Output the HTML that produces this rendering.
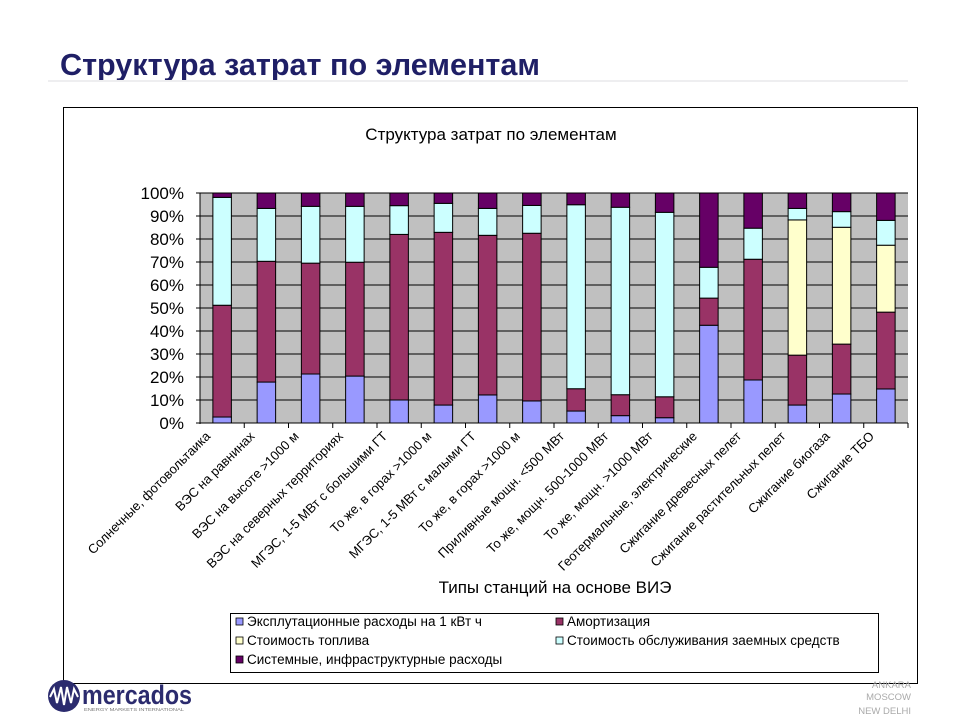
<!DOCTYPE html>
<html><head><meta charset="utf-8">
<style>
body{margin:0;width:960px;height:720px;background:#fff;overflow:hidden;font-family:"Liberation Sans","DejaVu Sans",sans-serif;}
</style></head>
<body>
<svg width="960" height="720" xmlns="http://www.w3.org/2000/svg">
<text x="60" y="75" font-family="Liberation Sans, sans-serif" font-weight="bold" font-size="31" fill="#1f1f66" textLength="480" lengthAdjust="spacingAndGlyphs">Структура затрат по элементам</text>
<rect x="48" y="80" width="860" height="2" fill="#eeeef0"/>
<rect x="63.5" y="107.5" width="854" height="576" fill="#fff" stroke="#000" stroke-width="1"/>
<text x="491" y="140" text-anchor="middle" font-size="17" fill="#000">Структура затрат по элементам</text>
<g id="plot"></g>
<text x="555" y="593" text-anchor="middle" font-size="17" fill="#000">Типы станций на основе ВИЭ</text>
<g id="legend"></g>
<g>
<circle cx="64" cy="696" r="16" fill="#2b2b6e"/>
<polyline points="50,697 54,689 57,703 61,687 64,705 67,687 71,703 74,689 78,697" fill="none" stroke="#fff" stroke-width="2"/>
<text x="82" y="704" font-weight="bold" font-size="27" fill="#2b2b6e" textLength="110" lengthAdjust="spacingAndGlyphs">mercados</text>
<text x="84" y="711" font-size="4.5" fill="#777" textLength="100" lengthAdjust="spacingAndGlyphs">ENERGY MARKETS INTERNATIONAL</text>
</g>
<g font-size="9.5" fill="#aaa" text-anchor="end">
<text x="911" y="688">ANKARA</text>
<text x="911" y="700">MOSCOW</text>
<text x="911" y="714">NEW DELHI</text>
</g>
</svg>
<script>
const categories=["Солнечные, фотовольтаика","ВЭС на равнинах","ВЭС на высоте >1000 м","ВЭС на северных территориях","МГЭС, 1-5 МВт с большими ГТ","То же, в горах >1000 м","МГЭС, 1-5 МВт с малыми ГТ","То же, в горах >1000 м","Приливные мощн. <500 МВт","То же, мощн. 500-1000 МВт","То же, мощн. >1000 МВт","Геотермальные, электрические","Сжигание древесных пелет","Сжигание растительных пелет","Сжигание биогаза","Сжигание ТБО"];
const opex=[2.6,17.8,21.3,20.4,10,7.8,12.2,9.6,5.2,3.2,2.3,42.5,18.7,7.8,12.6,14.8];
const amort=[48.6,52.5,48.2,49.5,72,75.1,69.4,72.9,9.7,9.1,9.1,11.8,52.5,21.7,21.7,33.4];
const fuel=[0,0,0,0,0,0,0,0,0,0,0,0,0,58.8,50.8,29.1];
const loan=[46.9,23,24.7,24.3,12.5,12.6,11.7,12.1,80,81.5,80.2,13.4,13.5,5,6.8,10.8];
const system=[1.9,6.7,5.8,5.8,5.5,4.5,6.7,5.4,5.1,6.2,8.4,32.3,15.3,6.7,8.1,11.9];
const yTicks=["0%","10%","20%","30%","40%","50%","60%","70%","80%","90%","100%"];
const seriesNames=["Эксплутационные расходы на 1 кВт ч","Амортизация","Стоимость топлива","Стоимость обслуживания заемных средств","Системные, инфраструктурные расходы"];
const colors=["#9999ff","#993366","#ffffcc","#ccffff","#660066"];
const NS="http://www.w3.org/2000/svg";
const X0=200,X1=908,Y0=423,Y1=193;
const slot=(X1-X0)/categories.length;
function y(v){return Y0-(v/100)*(Y0-Y1);}
function xc(i){return X0+slot*(i+0.5);}
function mk(tag,attrs,parent){const e=document.createElementNS(NS,tag);for(const k in attrs)e.setAttribute(k,attrs[k]);parent.appendChild(e);return e;}
const plot=document.getElementById('plot');
const bg=mk('rect',{x:X0,y:Y1,width:X1-X0,height:Y0-Y1,fill:'#c0c0c0'},plot);


yTicks.forEach((t,i)=>{const v=i*10;
 const gl=mk('line',{x1:X0-4,x2:X1,y1:y(v),y2:y(v),stroke:'#000','stroke-width':1},plot);
 
 
 const tx=mk('text',{x:184,y:y(v)+6,'text-anchor':'end','font-size':17,fill:'#000'},plot);
 tx.textContent=t;
 
 
});
mk('line',{x1:X0,x2:X0,y1:Y1,y2:Y0+1,stroke:'#000'},plot);
const series=[opex,amort,fuel,loan,system];
const bw=18.5;
categories.forEach((c,i)=>{
 let acc=0;
 series.forEach((s,k)=>{
  const v=s[i]; if(v<=0)return;
  const r=mk('rect',{x:xc(i)-bw/2,y:y(acc+v),width:bw,height:y(acc)-y(acc+v),fill:colors[k],stroke:'#000','stroke-width':1},plot);
  
  
  acc+=v;
 });
 const tk=mk('line',{x1:X0+slot*(i+1),x2:X0+slot*(i+1),y1:Y0,y2:Y0+5,stroke:'#000'},plot);
 
 
 const lx=xc(i)-11,ly=Y0+14;
 const t=mk('text',{x:lx,y:ly,'text-anchor':'end','font-size':13,fill:'#000',transform:`rotate(-45 ${lx} ${ly})`},plot);
 t.textContent=c;
 
 
});
const lg=document.getElementById('legend');
const box=mk('rect',{x:230.5,y:613.5,width:648,height:59,fill:'#fff',stroke:'#000'},lg);


const pos=[[236,626],[556,626],[236,645],[556,645],[236,664]];
seriesNames.forEach((n,k)=>{
 const [px,py]=pos[k];
 const g=mk('g',{},lg);
 
 
 mk('rect',{x:px,y:py-8,width:7,height:7,fill:colors[k],stroke:'#000','stroke-width':0.8},g);
 const t=mk('text',{x:px+11,y:py,'font-size':13.5,fill:'#000'},g);
 t.textContent=n;
});
</script>
</body></html>
